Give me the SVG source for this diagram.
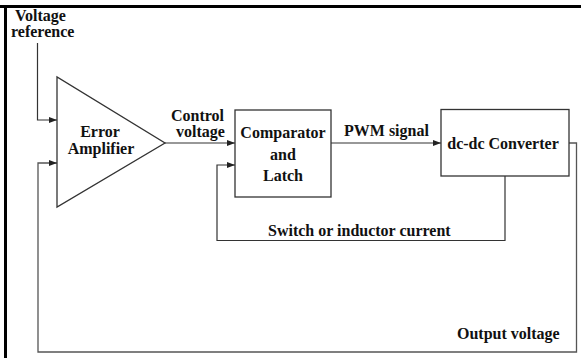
<svg xmlns="http://www.w3.org/2000/svg" width="581" height="358" viewBox="0 0 581 358">
<style>
text{font-family:"Liberation Serif","Times New Roman",serif;font-weight:bold;font-size:16px;fill:#111}
.box{fill:#fff;stroke:#333;stroke-width:1.3}
.ln{fill:none;stroke:#333;stroke-width:1.2}
.fb{fill:none;stroke:#555;stroke-width:1.3}
.mid{text-anchor:middle}
</style>
<defs>
<marker id="ah" markerWidth="8" markerHeight="6" refX="8" refY="3" orient="auto" markerUnits="userSpaceOnUse">
<path d="M0,0 L8,3 L0,6 Z" fill="#222"/>
</marker>
</defs>
<rect width="581" height="358" fill="#fff"/>
<g id="frame">
<line x1="0" y1="6.5" x2="581" y2="6.5" stroke="#000" stroke-width="3"/>
<line x1="5.5" y1="5" x2="5.5" y2="358" stroke="#000" stroke-width="3"/>
</g>
<g id="connectors">
<path class="ln" d="M37.5,43 V120 H57" marker-end="url(#ah)"/>
<path class="fb" d="M569,143 H576.5 V352 H38 V163 H57" marker-end="url(#ah)"/>
<path class="ln" d="M165,143 H235" marker-end="url(#ah)"/>
<path class="ln" d="M331,143 H441" marker-end="url(#ah)"/>
<path class="ln" d="M505,176 V240.5 H217 V165 H235" marker-end="url(#ah)"/>
</g>
<g id="voltage-reference-label">
<text x="15" y="21">Voltage</text>
<text x="11" y="37">reference</text>
</g>
<g id="error-amplifier">
<polygon class="box" points="57,77 57,207 165,143"/>
<text class="mid" x="100" y="137">Error</text>
<text class="mid" x="101" y="154">Amplifier</text>
</g>
<g id="control-voltage-label">
<text x="171" y="121">Control</text>
<text x="176" y="137">voltage</text>
</g>
<g id="comparator-latch">
<rect class="box" x="235" y="110" width="96" height="87"/>
<text class="mid" x="283" y="138">Comparator</text>
<text class="mid" x="283" y="160">and</text>
<text class="mid" x="283" y="181">Latch</text>
</g>
<g id="pwm-label">
<text x="344" y="136">PWM signal</text>
</g>
<g id="dc-dc-converter">
<rect class="box" x="441" y="109.5" width="128" height="66.5"/>
<text class="mid" x="503" y="149">dc-dc Converter</text>
</g>
<g id="switch-current-label">
<text x="268" y="236">Switch or inductor current</text>
</g>
<g id="output-voltage-label">
<text x="457" y="339">Output voltage</text>
</g>
</svg>
